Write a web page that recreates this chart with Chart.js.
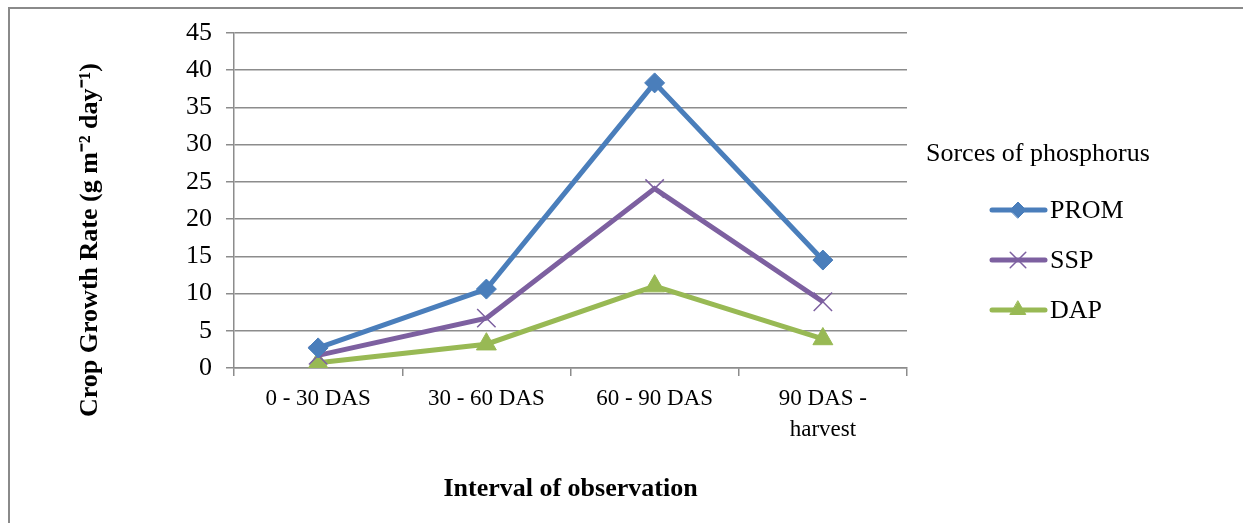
<!DOCTYPE html>
<html>
<head>
<meta charset="utf-8">
<script src="https://cdn.jsdelivr.net/npm/chart.js@4"></script>
<style>
  body { margin: 0; background: #fff; }
  #wrap { position: relative; width: 1243px; height: 523px; }
  #frame { position: absolute; left: 8px; top: 7px; right: 0; bottom: 0;
           border-left: 2px solid #8a8a8a; border-top: 2px solid #8a8a8a; }
  canvas { position: absolute; left: 0; top: 0; }
</style>
</head>
<body>
<div id="wrap">
  <div id="frame"></div>
  <canvas id="myChart" width="1243" height="523"></canvas>
</div>
<script>
// данные
const categories = ["0 - 30 DAS", "30 - 60 DAS", "60 - 90 DAS", ["90 DAS -", "harvest"]];
const prom = [2.7, 10.6, 38.3, 14.5];
const ssp = [1.7, 6.7, 24.1, 8.9];
const dap = [0.7, 3.2, 11.0, 3.9];
const yTicks = [0, 5, 10, 15, 20, 25, 30, 35, 40, 45];
const legendTitle = "Sorces of phosphorus";
const yTitle = "Crop Growth Rate (g m\u207B\u00B2 day\u207B\u00B9)";

const FONT = "'Liberation Serif', 'Times New Roman', serif";
const GRID = "#8c8c8c";

// легенда справа (как в Excel: линия + маркер) и подпись оси Y
const sideLegend = {
    id: "sideLegend",
    afterDraw(chart) {
        const c = chart.ctx;
        c.save();
        c.fillStyle = "#000";
        c.textBaseline = "middle";
        c.textAlign = "center";
        // подпись оси Y (в Excel она центрирована по всей высоте)
        c.save();
        c.translate(90, 240);
        c.rotate(-Math.PI / 2);
        c.font = "bold 26px " + FONT;
        c.fillText(yTitle, 0, 0);
        c.restore();

        c.textAlign = "left";
        c.font = "26px " + FONT;
        c.fillText(legendTitle, 926, 154);
        const rows = [210, 260, 310];
        const sizes = [8, 8, 9];
        chart.data.datasets.forEach((ds, i) => {
            const y = rows[i];
            c.strokeStyle = ds.borderColor;
            c.lineWidth = 5;
            c.lineCap = "round";
            c.beginPath();
            c.moveTo(992, y);
            c.lineTo(1045, y);
            c.stroke();
            c.fillStyle = ds.borderColor;
            c.strokeStyle = ds.borderColor;
            c.lineWidth = ds.pointBorderWidth;
            Chart.helpers.drawPoint(c, {
                pointStyle: ds.pointStyle,
                radius: ds.pointStyle === "crossRot" ? 11 : sizes[i],
                borderWidth: ds.pointBorderWidth
            }, 1018, y);
            c.fillStyle = "#000";
            c.font = "26px " + FONT;
            c.fillText(ds.label, 1050, y + 1);
        });
        c.restore();
    }
};

let ctx = document.getElementById("myChart").getContext("2d");
let chart = new Chart(ctx, {
    type: "line",
    data: {
        labels: categories,
        datasets: [{
            label: "PROM",
            data: prom,
            borderColor: "#4a7ebb",
            backgroundColor: "#4a7ebb",
            borderWidth: 5,
            pointStyle: "rectRot",
            pointRadius: 10,
            pointBorderWidth: 1,
            pointBorderColor: "#4a7ebb",
            pointBackgroundColor: "#4a7ebb"
        },
        {
            label: "SSP",
            data: ssp,
            borderColor: "#7d60a0",
            backgroundColor: "#7d60a0",
            borderWidth: 5,
            pointStyle: "crossRot",
            pointRadius: 13,
            pointBorderWidth: 1.5,
            pointBorderColor: "#7d60a0"
        },
        {
            label: "DAP",
            data: dap,
            borderColor: "#98b954",
            backgroundColor: "#98b954",
            borderWidth: 5,
            pointStyle: "triangle",
            pointRadius: 11.5,
            pointBorderWidth: 1,
            pointBorderColor: "#98b954",
            pointBackgroundColor: "#98b954"
        }]
    },
    options: {
        responsive: false,
        animation: false,
        devicePixelRatio: 1,
        layout: {
            padding: { left: 75, right: 336, top: 33, bottom: 18 }
        },
        plugins: {
            legend: { display: false },
            tooltip: { enabled: false }
        },
        scales: {
            x: {
                offset: true,
                grid: {
                    offset: true,
                    drawOnChartArea: false,
                    color: GRID,
                    lineWidth: 1.5,
                    tickLength: 8
                },
                border: { color: GRID, width: 1.5 },
                ticks: {
                    color: "#000",
                    padding: 7,
                    maxRotation: 0,
                    font: { family: FONT, size: 23, lineHeight: 1.35 }
                },
                title: {
                    display: true,
                    text: "Interval of observation",
                    color: "#000",
                    padding: { top: 0, bottom: 0 },
                    font: { family: FONT, size: 26, weight: "bold" }
                },
                afterFit(scale) { scale.height = 523 - 368 - 18; }
            },
            y: {
                min: 0,
                max: 45,
                afterBuildTicks(scale) {
                    scale.ticks = yTicks.map(v => ({ value: v }));
                },
                grid: {
                    color: GRID,
                    lineWidth: 1.5,
                    tickLength: 8
                },
                border: { color: GRID, width: 1.5 },
                ticks: {
                    color: "#000",
                    padding: 14,
                    font: { family: FONT, size: 26 }
                },
                title: { display: false },
                afterFit(scale) { scale.width = 234 - 75; }
            }
        }
    },
    plugins: [sideLegend]
});
</script>
</body>
</html>
